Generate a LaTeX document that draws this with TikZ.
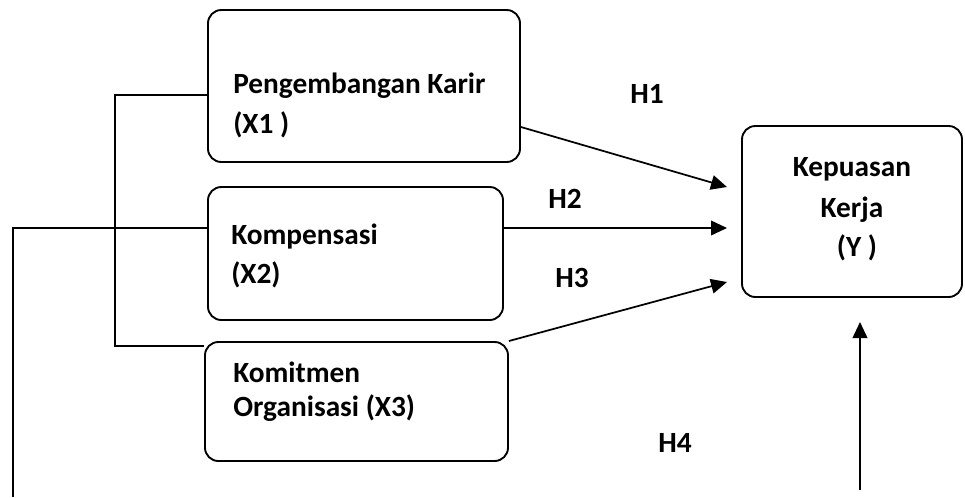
\documentclass[tikz,border=0pt]{standalone}
\usepackage{fontspec}
\setmainfont{Carlito}
\usepackage{tikz}
\usetikzlibrary{arrows.meta, positioning, calc}

\begin{document}
\begin{tikzpicture}[x=0.75pt, y=-0.75pt,
  varbox/.style={draw, line width=1.4pt, rounded corners=10pt, inner sep=0pt},
  txt/.style={font=\fontsize{22}{26}\selectfont\bfseries, inner sep=0pt},
  arr/.style={-{Triangle[length=12pt, width=11pt]}, line width=1.3pt},
  link/.style={line width=1.1pt}]

\useasboundingbox (0,0) rectangle (965,497);

% === Variable boxes ===
\node[varbox, minimum width=234pt, minimum height=114pt] (x1) at (364,86) {};
\node[varbox, minimum width=221.25pt, minimum height=99.75pt] (x2) at (355.5,253.5) {};
\node[varbox, minimum width=227.25pt, minimum height=89.25pt] (x3) at (356.5,401.5) {};
\node[varbox, minimum width=165pt, minimum height=128.25pt] (y) at (852,211.5) {};

% Box texts
\node[txt, anchor=base west] (x1a) at (233,93) {Pengembangan Karir};
\node[txt, anchor=base west] (x1b) at (233,133) {(X1 )};
\node[txt, anchor=base west] (x2a) at (231,244) {Kompensasi};
\node[txt, anchor=base west] (x2b) at (231,283) {(X2)};
\node[txt, anchor=base west] (x3a) at (233,382) {Komitmen};
\node[txt, anchor=base west] (x3b) at (233,416) {Organisasi (X3)};
\node[txt, anchor=base] (ya) at (852,176) {Kepuasan};
\node[txt, anchor=base] (yb) at (852,217) {Kerja};
\node[txt, anchor=base] (yc) at (857,256) {(Y )};

% === Hypothesis labels ===
\node[txt, anchor=base west] (h1) at (630,103) {H1};
\node[txt, anchor=base west] (h2) at (548,208) {H2};
\node[txt, anchor=base west] (h3) at (555,287) {H3};
\node[txt, anchor=base west] (h4) at (658,452) {H4};

% Arrow ends
\coordinate (t1) at (727,187);
\coordinate (t2) at (727,228);
\coordinate (t3) at (727,282);
\coordinate (t4) at (860,322);
\coordinate (b4) at (860,490);
\coordinate (b0) at (13,497);

% === Arrows to Y ===
\draw[arr] (x1.east |- 0,127) -- (t1);
\draw[arr] (x2.east |- 0,228) -- (t2);
\draw[arr] (x3.east |- 0,341) -- (t3);
\draw[arr] (b4) -- (t4);

% === Connecting lines on the left ===
\draw[link] (x1.west |- 0,95) -| (115,346) -- (x3.west |- 0,346);
\draw[link] (x2.west |- 0,228) -| (b0);

\end{tikzpicture}
\end{document}
